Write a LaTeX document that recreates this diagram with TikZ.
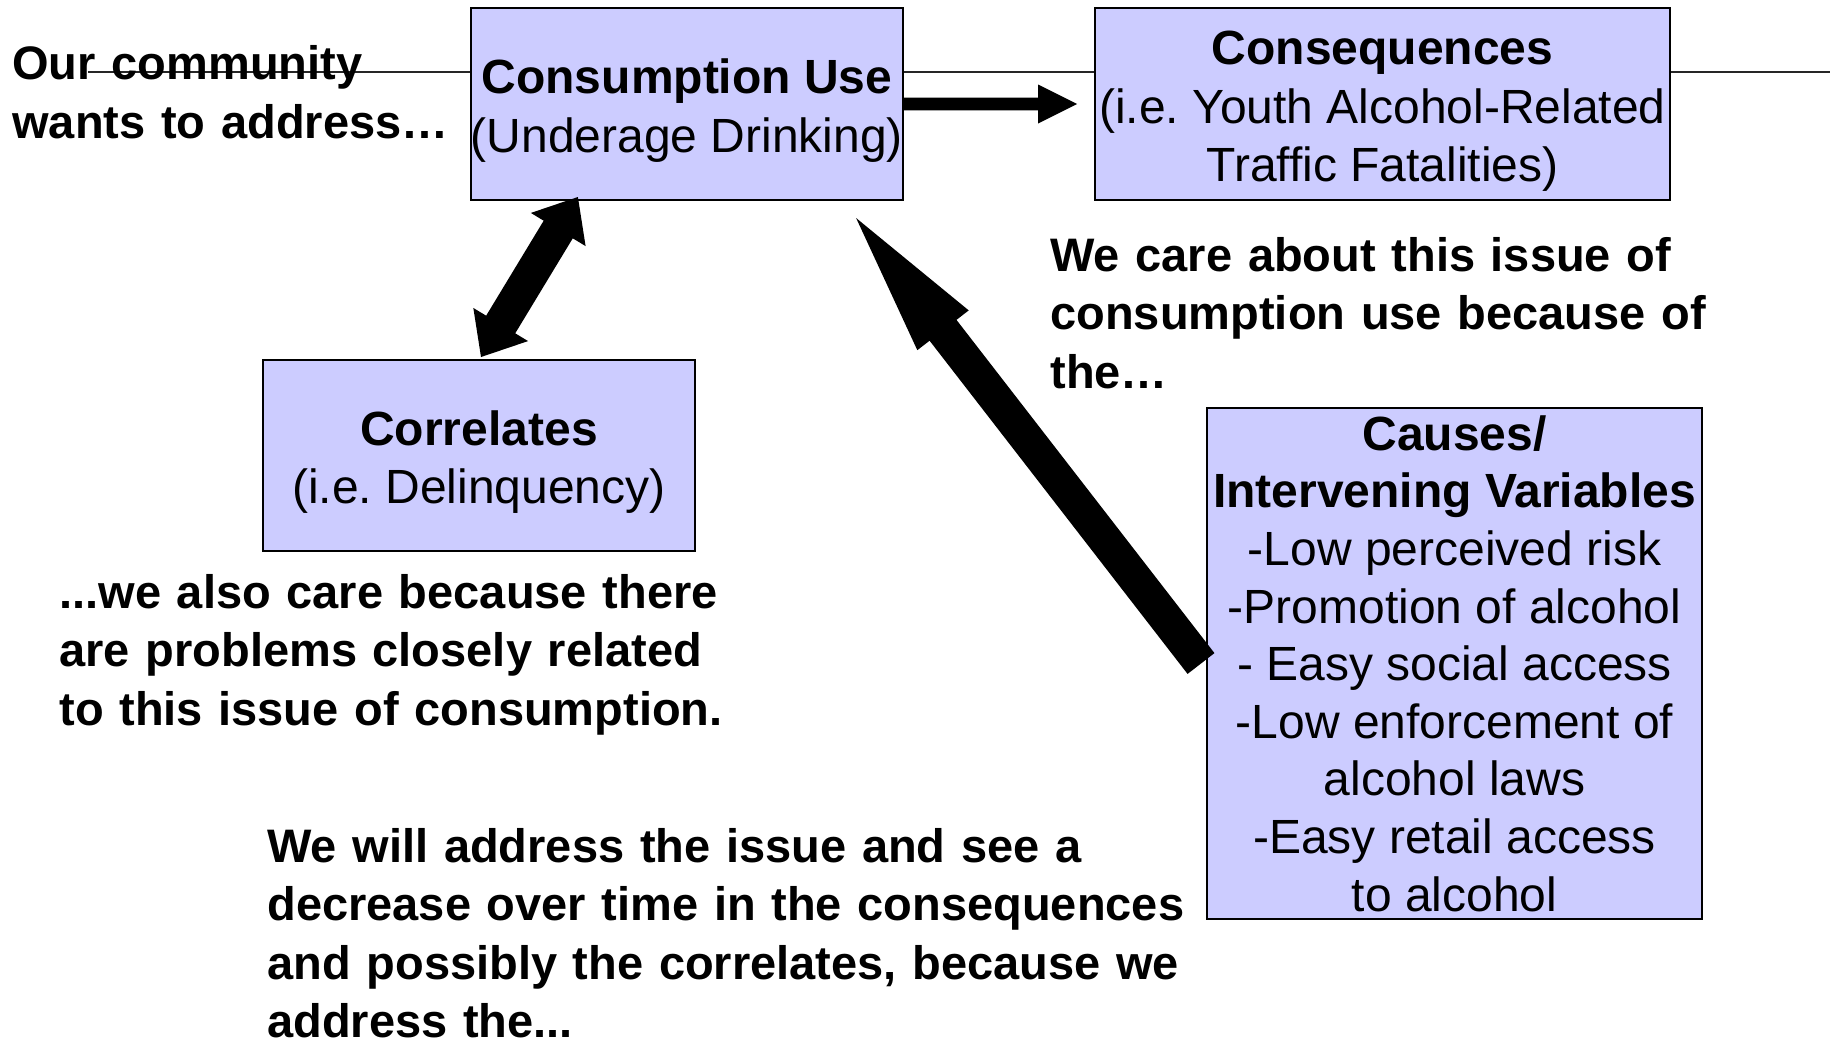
\documentclass[tikz,border=0pt]{standalone}
\usepackage{fontspec}
\setmainfont{Liberation Sans}
\usetikzlibrary{calc}
\definecolor{boxfill}{HTML}{CCCCFF}
\frenchspacing

% Filled block arrow: tail, tip, shaft half-width, head length, head half-width
\newcommand\blockarrow[5]{%
  \coordinate (ba-n) at ($(#2)!#4!(#1)$);
  \fill ($(#1)!#3!90:(#2)$) -- ($(ba-n)!#3!90:(#2)$) -- ($(ba-n)!#5!90:(#2)$) -- (#2)
    -- ($(ba-n)!#5!-90:(#2)$) -- ($(ba-n)!#3!-90:(#2)$) -- ($(#1)!#3!-90:(#2)$) -- cycle;
}
% Filled double-headed block arrow: end A, end B, shaft half-width, head length, head half-width
\newcommand\dblockarrow[5]{%
  \coordinate (da-a) at ($(#1)!#4!(#2)$);
  \coordinate (da-b) at ($(#2)!#4!(#1)$);
  \fill (#1) -- ($(da-a)!#5!90:(#2)$) -- ($(da-a)!#3!90:(#2)$) -- ($(da-b)!#3!90:(#2)$)
    -- ($(da-b)!#5!90:(#2)$) -- (#2) -- ($(da-b)!#5!-90:(#2)$) -- ($(da-b)!#3!-90:(#2)$)
    -- ($(da-a)!#3!-90:(#2)$) -- ($(da-a)!#5!-90:(#2)$) -- cycle;
}
% taller first line so the block sits a little lower in its box
\newcommand\firstline{\rule{0pt}{24pt}}

\tikzset{
  box/.style={draw=black, line width=1pt, fill=boxfill, inner sep=0pt, align=center,
    font=\frenchspacing\fontsize{24pt}{29.25pt}\selectfont},
  note/.style={inner sep=0pt, anchor=base west, align=left, text width=700pt,
    font=\frenchspacing\bfseries\fontsize{23.5pt}{29.25pt}\selectfont},
  rule/.style={draw=black!85, line width=1pt},
}

\begin{document}
\begin{tikzpicture}[x=0.5pt, y=-0.5pt]
\useasboundingbox[fill=white] (0,0) rectangle (1834,1040);

% horizontal rule behind the top row
\coordinate (ruleL) at (88,72);
\coordinate (ruleR) at (1830,72);
\draw[rule] (ruleL) -- (ruleR);

% boxes
\node[box, minimum width=216pt, minimum height=96pt] (cons) at (687,104)
  {\firstline\textbf{Consumption Use}\\(Underage Drinking)};
\node[box, minimum width=287.5pt, minimum height=96pt] (csq) at (1382.5,104)
  {\firstline\textbf{Consequences}\\(i.e. Youth Alcohol-Related\\Traffic Fatalities)};
\node[box, minimum width=216pt, minimum height=95.5pt] (corr) at (479,455.5)
  {\firstline\textbf{Correlates}\\(i.e. Delinquency)};
\node[box, minimum width=247.5pt, minimum height=255.5pt,
      font=\frenchspacing\fontsize{24pt}{28.8pt}\selectfont] (causes) at (1454.5,663.5)
  {\textbf{Causes/}\\\textbf{Intervening Variables}\\-Low perceived risk\\-Promotion of alcohol\\- Easy social access\\-Low enforcement of\\alcohol laws\\-Easy retail access\\to alcohol};

% arrows
\coordinate (rTip) at ($(csq.west)+(-17,0)$);
\blockarrow{cons.east}{rTip}{3.2pt}{19.5pt}{9.75pt}

\coordinate (dblTop) at ($(cons.south west)+(108,-4)$);
\coordinate (dblBot) at ($(corr.north)+(2,-2)$);
\dblockarrow{dblBot}{dblTop}{8.5pt}{19pt}{16pt}

\coordinate (bigTail) at ($(causes.west)+(-5,0)$);
\coordinate (bigTip) at ($(cons.south east)+(-48,17)$);
\blockarrow{bigTail}{bigTip}{8.5pt}{71pt}{16.25pt}

% free text
\node[note] (ourTxt) at (12,79.5) {Our community\\wants to address…};
\node[note] (careTxt) at (1050,271)
  {We care about this issue of\\consumption use because of\\the…};
\node[note] (alsoTxt) at (59,608)
  {...we also care because there\\are problems closely related\\to this issue of consumption.};
\node[note] (willTxt) at (267,862)
  {We will address the issue and see a\\decrease over time in the consequences\\and possibly the correlates, because we\\address the...};
\end{tikzpicture}
\end{document}
